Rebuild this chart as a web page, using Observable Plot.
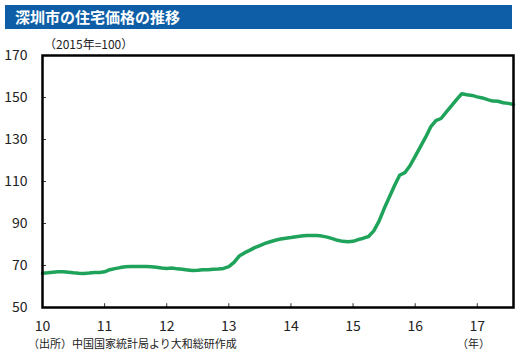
<!DOCTYPE html>
<html><head><meta charset="utf-8">
<script src="https://cdn.jsdelivr.net/npm/d3@7"></script>
<script src="https://cdn.jsdelivr.net/npm/@observablehq/plot@0.6"></script>
<style>
body{margin:0;background:#fff;font-family:"Noto Sans CJK JP","Noto Sans",sans-serif;}
#wrap{position:relative;width:525px;height:354px;overflow:hidden;}
#chart{position:absolute;left:0;top:0;}
.lbl{position:absolute;color:#222;white-space:nowrap;}
#title{position:absolute;left:5px;top:5px;width:507px;height:24px;background:#0d5ea6;color:#fff;font-weight:bold;font-size:15px;line-height:24px;padding-left:10px;box-sizing:border-box;}
</style></head>
<body><div id="wrap">
<div id="chart"></div>
<div id="title">深圳市の住宅価格の推移</div>
<div class="lbl" id="sub" style="left:44px;top:35px;font-size:12px;">（2015年=100）</div>
<div class="lbl" id="cap" style="left:28px;top:335px;font-size:11px;">（出所）中国国家統計局より大和総研作成</div>
<div class="lbl" id="unit" style="left:457px;top:335px;font-size:11px;">（年）</div>
</div>
<script>
const startYear = 10;
const values2010 = [66.3, 66.5, 66.8, 67.0, 67.0, 66.8, 66.5, 66.3, 66.2, 66.4, 66.7, 66.7];
const values2011 = [67.0, 68.0, 68.5, 69.0, 69.4, 69.5, 69.5, 69.5, 69.5, 69.4, 69.2, 68.8];
const values2012 = [68.6, 68.8, 68.4, 68.2, 67.9, 67.6, 67.7, 68.0, 68.0, 68.2, 68.3, 68.6];
const values2013 = [69.5, 71.5, 74.5, 76.0, 77.2, 78.5, 79.5, 80.5, 81.3, 82.0, 82.6, 83.0];
const values2014 = [83.3, 83.7, 84.0, 84.3, 84.3, 84.3, 84.0, 83.5, 82.8, 82.0, 81.5, 81.3];
const values2015 = [81.5, 82.3, 83.0, 83.8, 86.5, 91.0, 97.0, 102.5, 108.0, 113.0, 114.2, 117.5];
const values2016 = [122.0, 126.5, 131.0, 136.0, 139.0, 140.0, 143.0, 146.0, 149.0, 151.8, 151.3, 151.0];
const values2017 = [150.3, 149.8, 149.0, 148.3, 148.2, 147.5, 147.2, 146.7];
const xTicks = [10, 11, 12, 13, 14, 15, 16, 17];
const yTicks = [50, 70, 90, 110, 130, 150, 170];

const series = [values2010, values2011, values2012, values2013, values2014, values2015, values2016, values2017];
const data = [];
series.forEach((arr, yi) => arr.forEach((v, m) => data.push({t: startYear + yi + m / 12, v})));
const tEnd = data[data.length - 1].t;

const chart = Plot.plot({
  width: 525, height: 354,
  marginLeft: 42, marginRight: 12, marginTop: 55, marginBottom: 47,
  style: {background: "transparent", fontFamily: "'Noto Sans CJK JP', 'Noto Sans', sans-serif", fontSize: "14px", color: "#222"},
  x: {domain: [10, tEnd], label: null},
  y: {domain: [50, 170], label: null},
  marks: [
    Plot.axisX(xTicks, {tickSize: 0, tickPadding: 14, fontSize: 14, label: null}),
    Plot.axisY(yTicks, {tickSize: 0, tickPadding: 15, fontSize: 14, label: null}),
    Plot.ruleX(xTicks.slice(1), {y1: 50, y2: 51.8, stroke: "#333", strokeWidth: 1}),
    Plot.ruleY(yTicks.slice(1, -1), {x1: 10, x2: 10 + 4 / 62.2, stroke: "#333", strokeWidth: 1}),
    Plot.line(data, {x: "t", y: "v", stroke: "#1fa35a", strokeWidth: 3.5, curve: "linear"}),
    Plot.frame({stroke: "#000", strokeWidth: 2.5})
  ]
});
document.getElementById("chart").appendChild(chart);
</script>
</body></html>
